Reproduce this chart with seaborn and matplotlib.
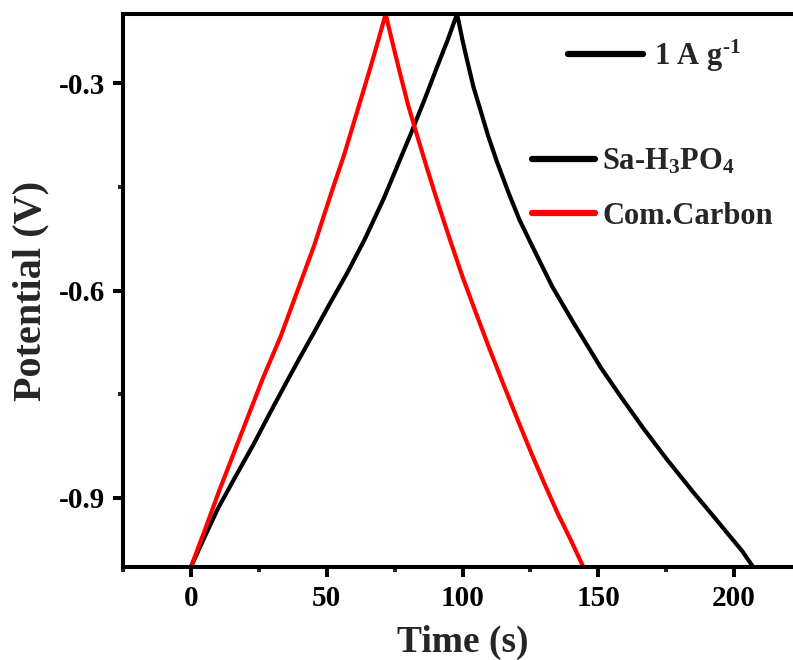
import matplotlib
matplotlib.use("Agg")
import matplotlib.pyplot as plt
from matplotlib.lines import Line2D
from matplotlib.ticker import MultipleLocator
import numpy as np
import pandas as pd
import seaborn as sns

# Galvanostatic charge/discharge curves at 1 A g^-1
sa_charge_t = [0, 5, 10, 16, 23, 29, 35, 40, 45, 51, 57.5, 64, 71, 76, 81, 86, 90.7, 94.5, 98]
sa_charge_v = [-1.0, -0.957, -0.915, -0.872, -0.823, -0.778, -0.734, -0.698, -0.663, -0.620, -0.575,
               -0.526, -0.467, -0.420, -0.373, -0.324, -0.276, -0.238, -0.200]
sa_discharge_t = [98, 100, 101.7, 104, 106.6, 109.5, 112.7, 116.9, 121, 126.2, 133, 140.9, 151, 158,
                  166.7, 175, 185, 191, 197.3, 203, 207]
sa_discharge_v = [-0.200, -0.238, -0.267, -0.305, -0.339, -0.377, -0.414, -0.458, -0.498, -0.540, -0.594,
                  -0.647, -0.712, -0.752, -0.800, -0.843, -0.892, -0.920, -0.950, -0.977, -1.0]

cc_charge_t = [0, 5, 10.4, 17.8, 26.4, 33.1, 39, 45.3, 52.1, 56.4, 61, 66.2, 69, 71.7]
cc_charge_v = [-1.0, -0.948, -0.890, -0.815, -0.728, -0.666, -0.603, -0.536, -0.454, -0.404, -0.344,
               -0.276, -0.238, -0.200]
cc_discharge_t = [71.7, 74, 77.2, 80, 83, 87, 91, 95, 100, 105, 110, 115, 120, 125, 130, 135, 140, 144.5]
cc_discharge_v = [-0.200, -0.238, -0.289, -0.332, -0.372, -0.424, -0.474, -0.522, -0.580, -0.633, -0.685,
                  -0.735, -0.784, -0.832, -0.878, -0.922, -0.962, -1.0]

series_names = ["Sa-H$_3$PO$_4$", "Com.Carbon"]
series_colors = ["#000000", "#ff0000"]
x_ticks = [0, 50, 100, 150, 200]
y_ticks = [-0.9, -0.6, -0.3]
current_label = "1 A g$^{\\text{-1}}$"

frames = []
for name, t, v in [
    (series_names[0], sa_charge_t + sa_discharge_t, sa_charge_v + sa_discharge_v),
    (series_names[1], cc_charge_t + cc_discharge_t, cc_charge_v + cc_discharge_v),
]:
    frames.append(pd.DataFrame({"Time": t, "Potential": v, "Sample": name}))
df = pd.concat(frames, ignore_index=True)

sns.set_style("ticks")
plt.rcParams["font.family"] = ["Liberation Serif", "DejaVu Serif"]
plt.rcParams["font.weight"] = "bold"
plt.rcParams["mathtext.fontset"] = "custom"
plt.rcParams["mathtext.rm"] = "Liberation Serif:bold"
plt.rcParams["mathtext.it"] = "Liberation Serif:bold"
plt.rcParams["mathtext.bf"] = "Liberation Serif:bold"
plt.rcParams["axes.unicode_minus"] = False

fig = plt.figure(figsize=(7.93, 6.6), dpi=100)
ax = fig.add_axes([123 / 793, 93 / 660, 679 / 793, 553 / 660])

sns.lineplot(data=df, x="Time", y="Potential", hue="Sample", hue_order=series_names,
             palette=series_colors, sort=False, estimator=None, units="Sample",
             linewidth=3.0, ax=ax, legend=True)

ax.set_xlim(-25, 225)
ax.set_ylim(-1.0, -0.2)
ax.set_xticks(x_ticks)
ax.set_yticks(y_ticks)
ax.xaxis.set_minor_locator(MultipleLocator(25))
ax.yaxis.set_minor_locator(MultipleLocator(0.15))
ax.set_yticklabels([f"{v:.1f}" for v in y_ticks])

for s in ax.spines.values():
    s.set_linewidth(2.9)
    s.set_color("black")
    s.set_visible(True)

ax.tick_params(which="major", direction="out", length=7, width=2.9, labelsize=21, pad=6, colors="black")
ax.tick_params(which="minor", direction="out", length=3.8, width=2.9)
ax.tick_params(top=False, right=False, which="both")

ax.set_xlabel("Time (s)", fontsize=27, fontweight="bold", labelpad=9)
ax.set_ylabel("Potential (V)", fontsize=29, fontweight="bold", labelpad=7)

handles, labels = ax.get_legend_handles_labels()
for h in handles:
    h.set_linewidth(4.5)
leg = ax.legend(handles, labels, loc="upper left", bbox_to_anchor=(532 / 793, 1 - 147 / 660),
                bbox_transform=fig.transFigure, frameon=False, fontsize=22, handlelength=2.05,
                handletextpad=0.25, labelspacing=0.83, borderpad=0, borderaxespad=0)
ax.add_artist(leg)

cur_handle = Line2D([], [], color="black", linewidth=4.5)
ax.legend([cur_handle], [current_label], loc="center left", bbox_to_anchor=(568 / 793, 1 - 56 / 660),
          bbox_transform=fig.transFigure, frameon=False, fontsize=22, handlelength=2.45,
          handletextpad=0.35, borderpad=0, borderaxespad=0)

fig.savefig("out.png", dpi=100)
